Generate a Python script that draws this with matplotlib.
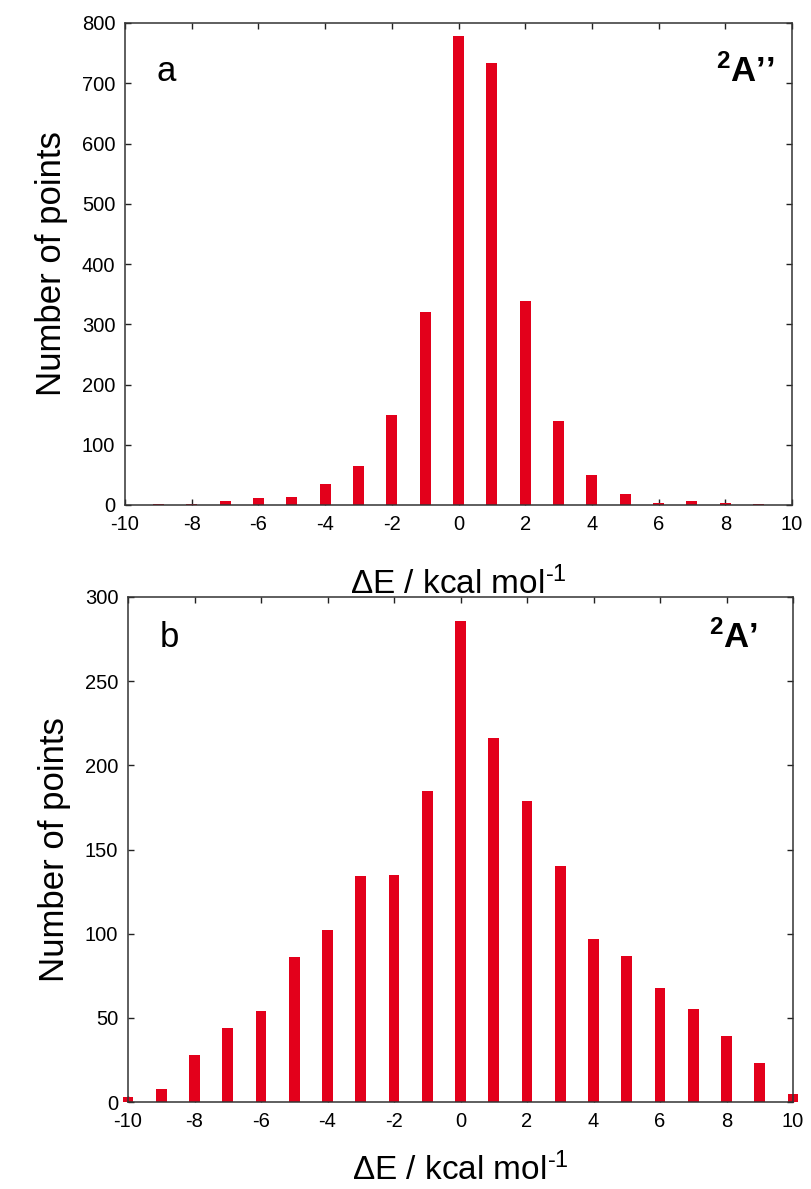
import matplotlib
matplotlib.use("Agg")
import matplotlib.pyplot as plt

plt.rcParams['font.family'] = ['Liberation Sans', 'DejaVu Sans']
plt.rcParams['axes.unicode_minus'] = False
plt.rcParams['mathtext.fontset'] = 'custom'
plt.rcParams['mathtext.rm'] = 'Liberation Sans'
plt.rcParams['mathtext.it'] = 'Liberation Sans:italic'
plt.rcParams['mathtext.bf'] = 'Liberation Sans:bold'

# Data
x_a = [-9, -8, -7, -6, -5, -4, -3, -2, -1, 0, 1, 2, 3, 4, 5, 6, 7, 8, 9]
counts_a = [1, 2, 6, 12, 14, 35, 65, 150, 320, 778, 733, 338, 140, 50, 19, 3, 7, 3, 1]

x_b = [-10, -9, -8, -7, -6, -5, -4, -3, -2, -1, 0, 1, 2, 3, 4, 5, 6, 7, 8, 9, 10]
counts_b = [3, 8, 28, 44, 54, 86, 102, 134, 135, 185, 286, 216, 179, 140, 97, 87, 68, 55, 39, 23, 5]

xticks = [-10, -8, -6, -4, -2, 0, 2, 4, 6, 8, 10]
yticks_a = [0, 100, 200, 300, 400, 500, 600, 700, 800]
yticks_b = [0, 50, 100, 150, 200, 250, 300]

W, H = 811, 1189
fig = plt.figure(figsize=(W / 100, H / 100), dpi=100)

def px_axes(left, right, top, bottom):
    return fig.add_axes([left / W, 1 - bottom / H, (right - left) / W, (bottom - top) / H])

red = '#e3001b'
xlabel_text = '\u0394E / kcal mol$^{\\mathregular{\u2010 1}}$'

def style(ax, yticks, ylim):
    ax.set_xlim(-10, 10)
    ax.set_ylim(0, ylim)
    ax.set_xticks(xticks)
    ax.set_xticklabels([str(t) for t in xticks])
    ax.set_yticks(yticks)
    ax.set_yticklabels([str(t) for t in yticks])
    ax.tick_params(direction='in', length=4, width=1, top=True, right=True,
                   labelsize=14.5, pad=7, colors='#222222', labelcolor='black')
    for s in ax.spines.values():
        s.set_linewidth(1.1)
        s.set_color('#333333')
    ax.set_ylabel('Number of points', fontsize=25, labelpad=10)

ax1 = px_axes(125, 792, 23, 505)
ax1.bar(x_a, counts_a, width=0.33, color=red, clip_on=False, zorder=2)
style(ax1, yticks_a, 800)
ax1.set_xlabel(xlabel_text, fontsize=24, labelpad=24)
ax1.text(0.062, 0.9, 'a', transform=ax1.transAxes, fontsize=25, ha='center', va='center')
ax1.text(0.93, 0.9, '$^{\\mathbf{2}}\\mathbf{A}$\u2019\u2019', transform=ax1.transAxes,
         fontsize=25, fontweight='bold', ha='center', va='center')

ax2 = px_axes(128, 793, 597, 1102)
ax2.bar(x_b, counts_b, width=0.33, color=red, clip_on=False, zorder=2)
style(ax2, yticks_b, 300)
ax2.set_xlabel(xlabel_text, fontsize=24, labelpad=16)
ax2.text(0.062, 0.92, 'b', transform=ax2.transAxes, fontsize=25, ha='center', va='center')
ax2.text(0.91, 0.92, '$^{\\mathbf{2}}\\mathbf{A}$\u2019', transform=ax2.transAxes,
         fontsize=25, fontweight='bold', ha='center', va='center')

fig.savefig('out.png', dpi=100)
